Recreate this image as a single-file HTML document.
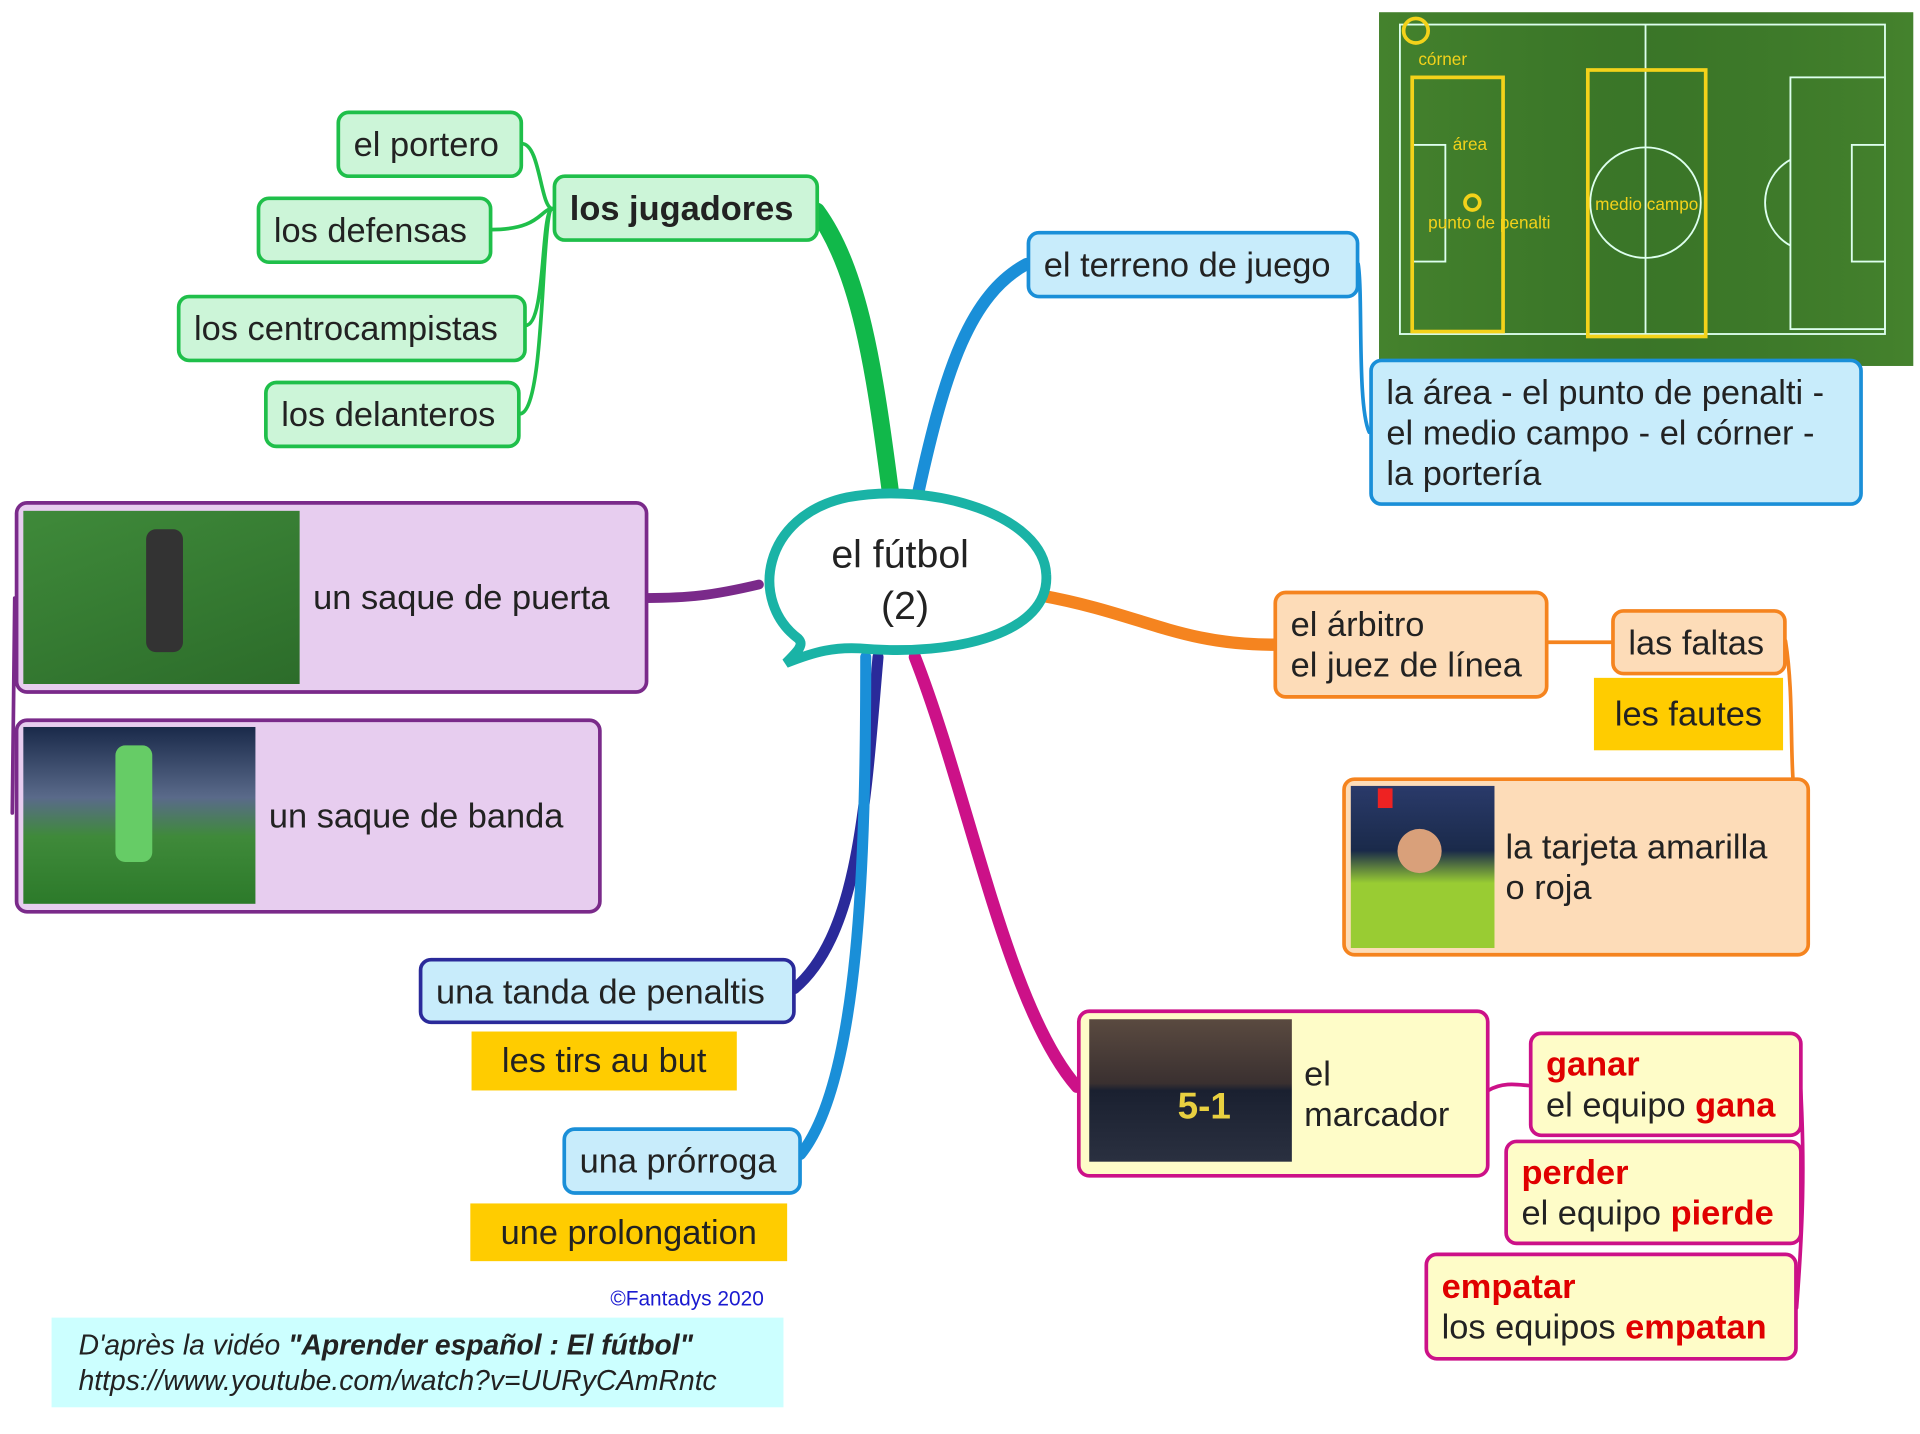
<!DOCTYPE html>
<html><head><meta charset="utf-8">
<style>
html,body{margin:0;padding:0;background:#fff;}
body{width:1920px;height:1434px;overflow:hidden;position:relative;}
#s{position:absolute;left:0;top:0;width:1560px;height:1165px;transform:scale(1.228);transform-origin:0 0;font-family:"Liberation Sans",Arial,sans-serif;}
.b{position:absolute;box-sizing:border-box;border-radius:10px;border:3px solid;font-size:28px;color:#222;line-height:33px;padding:0 11px;display:flex;align-items:center;white-space:nowrap;}
.g{background:#ccf5d8;border-color:#1fbf4a;}
.lb{background:#c8ecfb;border-color:#1a8fd8;}
.or{background:#fddcb8;border-color:#f5841f;}
.pu{background:#e7cdef;border-color:#7a2a8a;}
.ye{background:#fefcc8;border-color:#cc1188;}
.y{position:absolute;background:#ffcc00;font-size:28px;color:#222;display:flex;align-items:center;justify-content:center;}
.r{color:#e00000;font-weight:bold;}
.img{position:absolute;}
</style></head><body><div id="s">
<svg width="1560" height="1165" style="position:absolute;left:0;top:0">
<g fill="none" stroke-linecap="round">
<path d="M725 400 C712 300 700 220 665 172" stroke="#11b84a" stroke-width="14"/>
<path d="M748 400 C770 300 790 240 836 215" stroke="#1a8fd8" stroke-width="10"/>
<path d="M848 485 C930 500 960 525 1037 525" stroke="#f5841f" stroke-width="10"/>
<path d="M745 535 C790 650 820 820 877 885" stroke="#cc1188" stroke-width="10"/>
<path d="M715 535 C705 650 700 760 647 805" stroke="#2a2a9a" stroke-width="9"/>
<path d="M705 535 C705 700 700 880 652 940" stroke="#1a8fd8" stroke-width="9"/>
<path d="M618 476 C580 485 560 487 527 487" stroke="#7a2a8a" stroke-width="8"/>
<g stroke="#1fbf4a" stroke-width="3">
<path d="M450 170 C440 170 440 117 425 117"/><path d="M450 170 C440 170 440 187 400 187"/>
<path d="M450 170 C440 170 445 265 428 265"/><path d="M450 170 C440 170 445 337 423 337"/>
</g>
<path d="M1106 215 C1110 240 1105 330 1115 352" stroke="#1a8fd8" stroke-width="3"/>
<path d="M1260 523 L1312 523" stroke="#f5841f" stroke-width="3"/>
<path d="M1454 522 C1460 560 1458 600 1460 633" stroke="#f5841f" stroke-width="3"/>
<path d="M1212 888 C1225 880 1240 884 1245 884" stroke="#cc1188" stroke-width="3"/>
<path d="M1466 880 C1470 950 1468 1000 1463 1065" stroke="#cc1188" stroke-width="3"/>
<path d="M12 487 L10 662" stroke="#7a2a8a" stroke-width="3"/>
</g>
<path d="M650 520 C610 490 620 420 690 405 C760 392 850 420 852 468 C855 515 780 535 700 528 C680 527 665 530 640 540 C650 530 655 525 650 520Z" fill="#fff" stroke="#1ab3a6" stroke-width="8"/>
<text x="733" y="462" font-size="32" text-anchor="middle" fill="#222" font-family="Liberation Sans">el fútbol</text>
<text x="737" y="504" font-size="32" text-anchor="middle" fill="#222" font-family="Liberation Sans">(2)</text>
<rect x="1123" y="10" width="435" height="288" fill="#3f7a2a"/>
<rect x="1123" y="10" width="435" height="288" fill="url(#fg)"/>
<defs><linearGradient id="fg" x1="0" x2="1"><stop offset="0" stop-color="#4a8a30" stop-opacity=".5"/><stop offset=".5" stop-color="#2e6a22" stop-opacity=".3"/><stop offset="1" stop-color="#4a8a30" stop-opacity=".5"/></linearGradient></defs>
<g stroke="#dfe" stroke-width="1.5" fill="none">
<rect x="1140" y="20" width="395" height="252"/><line x1="1340" y1="20" x2="1340" y2="272"/>
<circle cx="1340" cy="165" r="45"/><rect x="1458" y="63" width="77" height="205"/><rect x="1508" y="118" width="27" height="95"/>
<path d="M1458 130 A40 40 0 0 0 1458 200"/><rect x="1150" y="118" width="27" height="95"/>
</g>
<g stroke="#f3d21a" stroke-width="3" fill="none">
<rect x="1150" y="63" width="74" height="207"/><rect x="1293" y="57" width="96" height="217"/>
<circle cx="1153" cy="25" r="10"/><circle cx="1199" cy="165" r="6"/>
</g>
<g fill="#f3d21a" font-size="14" font-family="Liberation Sans">
<text x="1155" y="53">córner</text><text x="1183" y="122">área</text><text x="1163" y="186">punto de penalti</text><text x="1299" y="171">medio campo</text>
</g>
</svg>

<div class="b g" style="left:450px;top:142px;width:217px;height:55px;font-weight:bold;">los jugadores</div>
<div class="b g" style="left:274px;top:90px;width:152px;height:55px;">el portero</div>
<div class="b g" style="left:209px;top:160px;width:192px;height:55px;">los defensas</div>
<div class="b g" style="left:144px;top:240px;width:285px;height:55px;">los centrocampistas</div>
<div class="b g" style="left:215px;top:310px;width:209px;height:55px;">los delanteros</div>

<div class="b lb" style="left:836px;top:188px;width:271px;height:55px;">el terreno de juego</div>
<div class="b lb" style="left:1115px;top:292px;width:402px;height:120px;">la área - el punto de penalti -<br>el medio campo - el córner -<br>la portería</div>

<div class="b or" style="left:1037px;top:481px;width:224px;height:88px;">el árbitro<br>el juez de línea</div>
<div class="b or" style="left:1312px;top:496px;width:143px;height:54px;">las faltas</div>
<div class="y" style="left:1298px;top:552px;width:154px;height:59px;">les fautes</div>
<div class="b or" style="left:1093px;top:633px;width:381px;height:146px;padding-left:130px;">la tarjeta amarilla<br>o roja</div>
<div class="img" style="left:1100px;top:640px;width:117px;height:132px;background:linear-gradient(180deg,#2a3a6a 0%,#1a2a4a 40%,#9c3 60%,#9c3 100%);"><div style="position:absolute;left:38px;top:35px;width:36px;height:36px;border-radius:50%;background:#d9a07a"></div><div style="position:absolute;left:22px;top:2px;width:12px;height:16px;background:#e22"></div></div>

<div class="b ye" style="left:877px;top:822px;width:336px;height:137px;padding-left:182px;">el<br>marcador</div>
<div class="img" style="left:887px;top:830px;width:165px;height:116px;background:linear-gradient(180deg,#5a4a40 0%,#3a3030 45%,#1a2030 50%,#2a3040 100%);"><div style="position:absolute;left:72px;top:55px;color:#e8d040;font-weight:bold;font-size:30px">5-1</div></div>
<div class="b ye" style="left:1245px;top:840px;width:223px;height:86px;"><div><span class="r">ganar</span><br>el equipo <span class="r">gana</span></div></div>
<div class="b ye" style="left:1225px;top:928px;width:243px;height:86px;"><div><span class="r">perder</span><br>el equipo <span class="r">pierde</span></div></div>
<div class="b ye" style="left:1160px;top:1020px;width:304px;height:88px;"><div><span class="r">empatar</span><br>los equipos <span class="r">empatan</span></div></div>

<div class="b pu" style="left:12px;top:408px;width:516px;height:157px;padding-left:240px;">un saque de puerta</div>
<div class="img" style="left:19px;top:416px;width:225px;height:141px;background:linear-gradient(160deg,#3f8a3a,#2c6c2a);"><div style="position:absolute;left:100px;top:15px;width:30px;height:100px;background:#333;border-radius:8px"></div></div>
<div class="b pu" style="left:12px;top:585px;width:478px;height:159px;padding-left:204px;">un saque de banda</div>
<div class="img" style="left:19px;top:592px;width:189px;height:144px;background:linear-gradient(180deg,#1a2a4a 0%,#3a4a6a 20%,#5a6a8a 40%,#3f8a3a 62%,#2c7a2a 100%);"><div style="position:absolute;left:75px;top:15px;width:30px;height:95px;background:#6c6;border-radius:8px"></div></div>

<div class="b lb" style="left:341px;top:780px;width:307px;height:54px;border-color:#2a2a9a;">una tanda de penaltis</div>
<div class="y" style="left:384px;top:840px;width:216px;height:48px;">les tirs au but</div>
<div class="b lb" style="left:458px;top:918px;width:195px;height:55px;">una prórroga</div>
<div class="y" style="left:383px;top:980px;width:258px;height:47px;">une prolongation</div>

<div style="position:absolute;left:497px;top:1048px;font-size:17px;color:#1a1ad0;">©Fantadys 2020</div>
<div style="position:absolute;left:42px;top:1073px;width:596px;height:73px;background:#ccffff;font-size:23px;font-style:italic;color:#222;padding:8px 0 0 22px;box-sizing:border-box;line-height:29px;">D'après la vidéo <b>"Aprender español : El fútbol"</b><br>https://www.youtube.com/watch?v=UURyCAmRntc</div>
</div></body></html>
